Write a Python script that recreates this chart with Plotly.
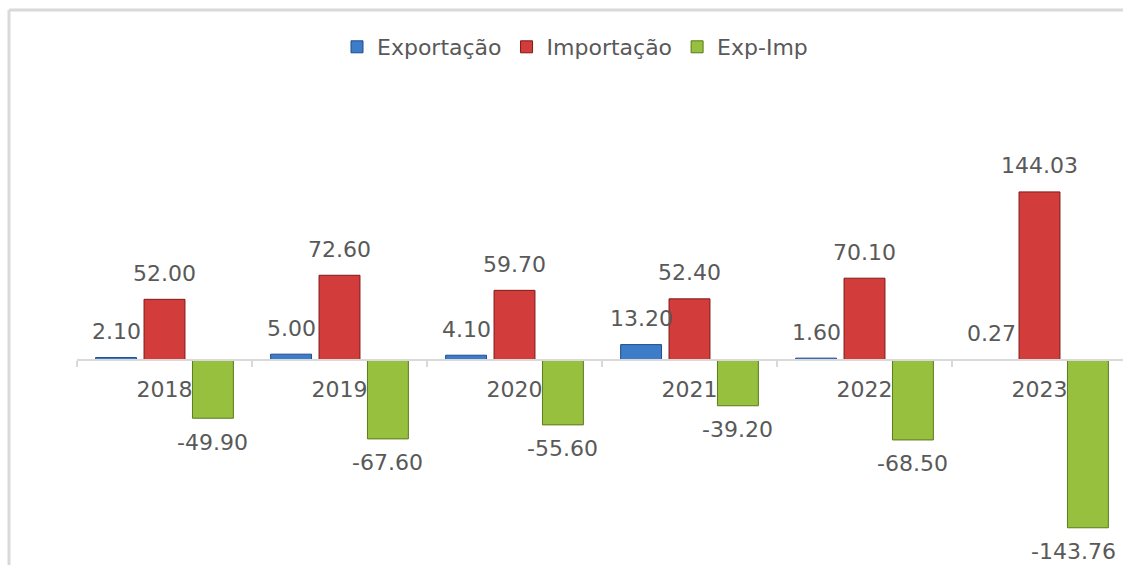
import plotly.graph_objects as go

years = ["2018", "2019", "2020", "2021", "2022", "2023"]
exportacao = [2.10, 5.00, 4.10, 13.20, 1.60, 0.27]
importacao = [52.00, 72.60, 59.70, 52.40, 70.10, 144.03]
exp_imp = [-49.90, -67.60, -55.60, -39.20, -68.50, -143.76]

series_names = ["Exportação", "Importação", "Exp-Imp"]
series_values = [exportacao, importacao, exp_imp]
fill_colors = ["#3d7cc9", "#d23c3a", "#96c03e"]
edge_colors = ["#1f4e8c", "#7e1a18", "#5a7a1c"]

W, H = 1123, 565
ML, MR, MT, MB = 77, 0, 100, 5
plot_h = H - MT - MB
zero_px = 360
scale = 1.167  # px per unit
ymin = -(H - MB - zero_px) / scale
ymax = (zero_px - MT) / scale

bargap = 0.17
bargroupgap = 0.155
label_font = dict(family="DejaVu Sans", size=22, color="#595959")

fig = go.Figure()
for name, vals, fc, ec in zip(series_names, series_values, fill_colors, edge_colors):
    fig.add_trace(go.Bar(
        x=years, y=vals, name=name,
        marker=dict(color=fc, line=dict(color=ec, width=1)),
    ))

# value labels centred on each bar (the last one nudged left to stay inside)
slot = (1 - bargap) / len(series_names)
n_cat = len(years)
for si, vals in enumerate(series_values):
    off = (si - (len(series_names) - 1) / 2) * slot
    for ci, v in enumerate(vals):
        edge = (ci == n_cat - 1 and si == len(series_names) - 1)
        fig.add_annotation(
            x=ci + off, y=v, xref="x", yref="y",
            text=f"{v:.2f}", showarrow=False,
            yshift=26 if v >= 0 else -24,
            xshift=-14 if edge else 0,
            font=label_font,
        )

# frame lines (chart border)
px_x = lambda p: (p - ML) / (W - ML - MR)
px_y = lambda p: (H - MB - p) / plot_h
fig.add_shape(type="line", xref="paper", yref="paper",
              x0=px_x(9), x1=px_x(W + 5), y0=px_y(10), y1=px_y(10),
              line=dict(color="#d9d9d9", width=3))
fig.add_shape(type="line", xref="paper", yref="paper",
              x0=px_x(9), x1=px_x(9), y0=px_y(10), y1=px_y(H + 5),
              line=dict(color="#d9d9d9", width=3))

cat_px = 175.0
xmax = 5.5 - ((ML + 6 * cat_px) - (W - MR)) / cat_px

fig.update_layout(
    width=W, height=H,
    margin=dict(l=ML, r=MR, t=MT, b=MB),
    paper_bgcolor="white", plot_bgcolor="white",
    barmode="group", bargap=bargap, bargroupgap=bargroupgap,
    font=dict(family="DejaVu Sans", color="#595959"),
    showlegend=True,
    legend=dict(orientation="h", x=px_x(575), xanchor="center",
                y=px_y(47), yanchor="middle",
                font=dict(family="DejaVu Sans", size=22, color="#595959"),
                itemwidth=30, traceorder="normal"),
    xaxis=dict(
        type="category", range=[-0.5, xmax],
        anchor="free", position=(0 - ymin) / (ymax - ymin),
        showline=True, linecolor="#d9d9d9", linewidth=2,
        ticks="outside", tickson="boundaries", ticklen=6,
        tickcolor="#d9d9d9", tickwidth=2,
        tickfont=label_font, ticklabelstandoff=10,
        showgrid=False, zeroline=False,
    ),
    yaxis=dict(range=[ymin, ymax], visible=False, showgrid=False, zeroline=False),
)

fig.write_html(
    "out.html",
    config={"displayModeBar": False},
    post_script="document.body.style.margin='0';document.body.style.overflow='hidden';",
)
